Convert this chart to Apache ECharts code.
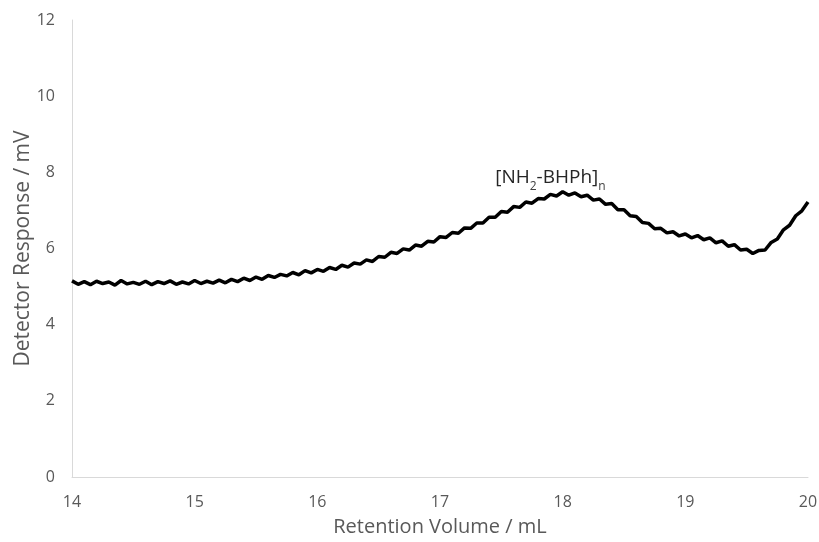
<!DOCTYPE html>
<html>
<head>
<meta charset="utf-8">
<script src="https://cdn.jsdelivr.net/npm/echarts@6/dist/echarts.min.js"></script>
<style>
  html, body { margin: 0; padding: 0; background: #fff; }
  #main { width: 819px; height: 542px; }
</style>
</head>
<body>
<div id="main"></div>
<script>
// retention volume grid, 0.05 mL steps from 14 to 20
var volStart = 14;
var volStep = 0.05;

// detector response (mV)
var response = [
    5.15, 5.06, 5.13, 5.05, 5.14, 5.08, 5.12, 5.04, 5.16, 5.07,
    5.11, 5.06, 5.14, 5.05, 5.13, 5.08, 5.15, 5.06, 5.12, 5.07,
    5.16, 5.08, 5.14, 5.09, 5.17, 5.10, 5.19, 5.13, 5.22, 5.16,
    5.25, 5.19, 5.29, 5.24, 5.32, 5.28, 5.37, 5.31, 5.42, 5.36,
    5.45, 5.40, 5.50, 5.45, 5.56, 5.51, 5.62, 5.59, 5.70, 5.66,
    5.79, 5.77, 5.90, 5.87, 5.99, 5.96, 6.09, 6.06, 6.19, 6.17,
    6.31, 6.29, 6.42, 6.40, 6.54, 6.53, 6.67, 6.67, 6.82, 6.82,
    6.97, 6.95, 7.10, 7.08, 7.22, 7.19, 7.31, 7.30, 7.42, 7.38,
    7.49, 7.40, 7.46, 7.36, 7.40, 7.27, 7.30, 7.16, 7.18, 7.02,
    7.02, 6.86, 6.84, 6.68, 6.66, 6.52, 6.53, 6.41, 6.44, 6.33,
    6.38, 6.28, 6.34, 6.23, 6.28, 6.15, 6.20, 6.06, 6.10, 5.96,
    5.98, 5.87, 5.95, 5.96, 6.16, 6.25, 6.49, 6.61, 6.86, 6.99,
    7.22
];

// peak annotation position (mL, mV)
var peakLabelAt = [17.9, 7.93];

var trace = [];
for (var i = 0; i < response.length; i++) {
    trace.push([+(volStart + i * volStep).toFixed(2), response[i]]);
}

var myChart = echarts.init(document.getElementById('main'));

var axisFont = 'Open Sans';
var option = {
    animation: false,
    grid: {
        left: 72,
        right: 11,
        top: 20,
        bottom: 65,
        outerBoundsMode: 'none'
    },
    xAxis: {
        type: 'value',
        min: 14,
        max: 20,
        interval: 1,
        name: 'Retention Volume / mL',
        nameLocation: 'middle',
        nameGap: 40,
        nameMoveOverlap: false,
        nameTextStyle: { color: '#595959', fontSize: 20, fontFamily: axisFont },
        axisLine: { show: true, lineStyle: { color: '#d9d9d9', width: 1 } },
        axisTick: { show: false },
        splitLine: { show: false },
        axisLabel: { color: '#595959', fontSize: 16, fontFamily: axisFont, margin: 17 }
    },
    yAxis: {
        type: 'value',
        min: 0,
        max: 12,
        interval: 2,
        name: 'Detector Response / mV',
        nameLocation: 'middle',
        nameGap: 38,
        nameMoveOverlap: false,
        nameTextStyle: { color: '#595959', fontSize: 21, fontFamily: axisFont },
        axisLine: { show: true, lineStyle: { color: '#d9d9d9', width: 1 } },
        axisTick: { show: false },
        splitLine: { show: false },
        axisLabel: { color: '#595959', fontSize: 16, fontFamily: axisFont, margin: 17 }
    },
    series: [{
        type: 'line',
        data: trace,
        showSymbol: false,
        symbol: 'none',
        lineStyle: { color: '#000', width: 3.5 },
        markPoint: {
            symbol: 'circle',
            symbolSize: 0,
            data: [{ coord: peakLabelAt }],
            label: {
                show: true,
                position: 'inside',
                formatter: '{a|[NH}{s|2}{a|-BHPh]}{s|n}',
                rich: {
                    a: { color: '#262626', fontSize: 19, fontFamily: axisFont, lineHeight: 24, verticalAlign: 'bottom' },
                    s: { color: '#404040', fontSize: 12, fontFamily: axisFont, lineHeight: 24, verticalAlign: 'bottom', padding: [0, 0, -6, 0] }
                }
            }
        }
    }]
};

myChart.setOption(option);
</script>
</body>
</html>
